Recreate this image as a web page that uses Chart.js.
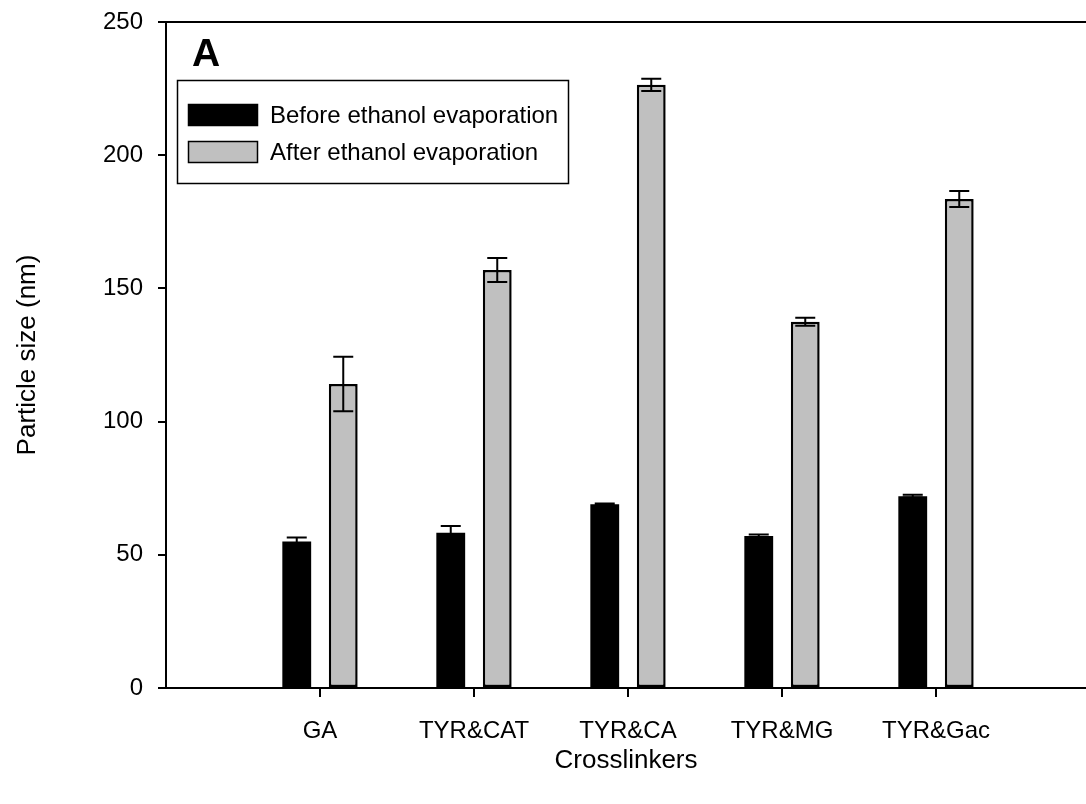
<!DOCTYPE html>
<html lang="en">
<head>
    <meta charset="UTF-8">
    <title>Particle size</title>
    <style>
        html, body { margin: 0; padding: 0; background: #fff; overflow: hidden; }
    </style>
</head>
<body>
    <div>
        <canvas id="myChart" width="1086" height="804"></canvas>
    </div>

    <script src="https://cdn.jsdelivr.net/npm/chart.js"></script>

    <script>
// chart values
const categories = ['GA', 'TYR&CAT', 'TYR&CA', 'TYR&MG', 'TYR&Gac'];
const beforeEvap = [55, 58.3, 69, 57.1, 72];
const beforeErr = [1.5, 2.5, 0.3, 0.5, 0.5];
const afterEvap = [114.1, 156.9, 226.4, 137.5, 183.6];
const afterErr = [10.2, 4.5, 2.3, 1.5, 3];
const yTicks = [0, 50, 100, 150, 200, 250];

const FONT = 'Liberation Sans, Arial, sans-serif';

// error bars, top frame line, panel letter and boxed legend
const extras = {
    id: 'extras',
    afterDatasetsDraw(chart) {
        const ctx = chart.ctx;
        const y = chart.scales.y;
        const errs = [beforeErr, afterErr];
        ctx.save();
        ctx.strokeStyle = '#000';
        ctx.lineWidth = 2;
        chart.data.datasets.forEach((ds, di) => {
            chart.getDatasetMeta(di).data.forEach((bar, i) => {
                const v = ds.data[i].y;
                const e = errs[di][i];
                const top = y.getPixelForValue(v + e);
                const bot = y.getPixelForValue(v - e);
                ctx.beginPath();
                ctx.moveTo(bar.x, top);
                ctx.lineTo(bar.x, bot);
                ctx.moveTo(bar.x - 10, top);
                ctx.lineTo(bar.x + 10, top);
                ctx.moveTo(bar.x - 10, bot);
                ctx.lineTo(bar.x + 10, bot);
                ctx.stroke();
            });
        });
        ctx.restore();
    },
    afterDraw(chart) {
        const ctx = chart.ctx;
        const area = chart.chartArea;
        ctx.save();
        // top frame line
        ctx.strokeStyle = '#000';
        ctx.lineWidth = 2;
        ctx.beginPath();
        ctx.moveTo(area.left, area.top);
        ctx.lineTo(area.right, area.top);
        ctx.stroke();

        // panel letter
        ctx.fillStyle = '#000';
        ctx.font = 'bold 39px ' + FONT;
        ctx.textBaseline = 'alphabetic';
        ctx.fillText('A', 192, 66);

        // legend box
        ctx.lineWidth = 1.5;
        ctx.strokeRect(177.5, 80.5, 391, 103);
        ctx.font = '24px ' + FONT;
        ctx.textBaseline = 'middle';
        chart.data.datasets.forEach((ds, i) => {
            const sy = 104 + i * 37;
            ctx.fillStyle = ds.backgroundColor;
            ctx.fillRect(188, sy, 70, 22);
            ctx.strokeStyle = '#000';
            ctx.lineWidth = 1.5;
            ctx.strokeRect(188.5, sy + 0.5, 69, 21);
            ctx.fillStyle = '#000';
            ctx.fillText(ds.label, 270, sy + 12);
        });
        ctx.restore();
    }
};

const ctx = document.getElementById('myChart').getContext('2d');

const myChart = new Chart(ctx, {
    type: 'bar',
    data: {
        datasets: [{
            label: 'Before ethanol evaporation',
            data: categories.map((c, i) => ({ x: i + 1, y: beforeEvap[i] })),
            backgroundColor: '#000000',
            borderColor: '#000000',
            borderWidth: 0
        }, {
            label: 'After ethanol evaporation',
            data: categories.map((c, i) => ({ x: i + 1, y: afterEvap[i] })),
            backgroundColor: '#c0c0c0',
            borderColor: '#000000',
            borderWidth: 2.5,
            borderSkipped: false
        }]
    },
    options: {
        responsive: false,
        animation: false,
        categoryPercentage: 0.604,
        barPercentage: 0.62,
        layout: { padding: { top: 22, left: 0, right: 0, bottom: 0 } },
        plugins: {
            legend: { display: false },
            tooltip: { enabled: false }
        },
        scales: {
            x: {
                type: 'linear',
                offset: false,
                min: 0,
                max: 920 / 154,
                afterBuildTicks: scale => {
                    scale.ticks = categories.map((c, i) => ({ value: i + 1 }));
                },
                afterFit: scale => { scale.height = 116; },
                ticks: {
                    autoSkip: false,
                    maxRotation: 0,
                    padding: 20,
                    color: '#000',
                    font: { family: FONT, size: 24 },
                    callback: v => categories[v - 1]
                },
                grid: {
                    offset: false,
                    drawOnChartArea: false,
                    drawTicks: true,
                    tickLength: 9,
                    color: '#000',
                    lineWidth: 2
                },
                border: { display: true, color: '#000', width: 2 },
                title: {
                    display: true,
                    text: 'Crosslinkers',
                    color: '#000',
                    font: { family: FONT, size: 26 },
                    padding: { top: 0, bottom: 28 }
                }
            },
            y: {
                min: 0,
                max: 250,
                afterBuildTicks: scale => {
                    scale.ticks = yTicks.map(v => ({ value: v }));
                },
                afterFit: scale => {
                    scale.width = 166;
                    scale.paddingTop = 0;
                    scale.paddingBottom = 0;
                },
                ticks: {
                    padding: 15,
                    color: '#000',
                    font: { family: FONT, size: 24 }
                },
                grid: {
                    drawOnChartArea: false,
                    drawTicks: true,
                    tickLength: 8,
                    color: '#000',
                    lineWidth: 2
                },
                border: { display: true, color: '#000', width: 2 },
                title: {
                    display: true,
                    text: 'Particle size (nm)',
                    color: '#000',
                    font: { family: FONT, size: 26 },
                    padding: { top: 12, bottom: 0 }
                }
            }
        }
    },
    plugins: [extras]
});
    </script>
</body>
</html>
